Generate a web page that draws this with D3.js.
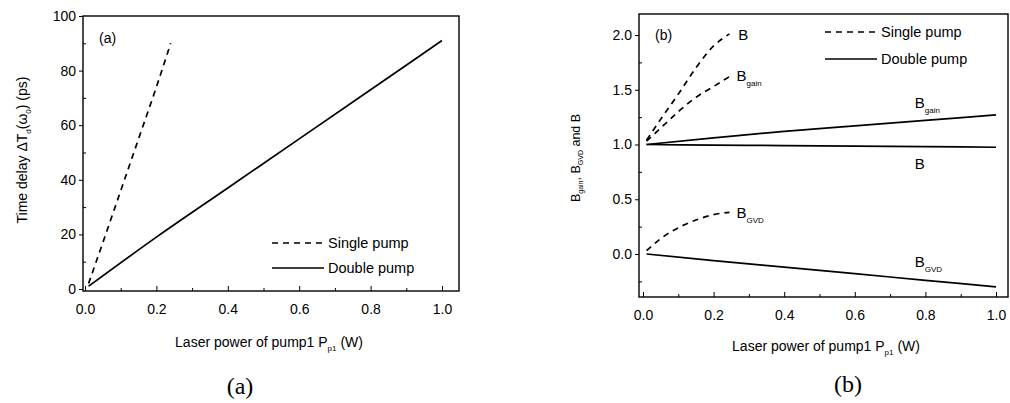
<!DOCTYPE html>
<html>
<head>
<meta charset="utf-8">
<script src="https://cdn.jsdelivr.net/npm/d3@7"></script>
<style>
  body { margin: 0; background: #fff; }
  text { fill: #000; }
</style>
</head>
<body>
<div id="chart"></div>
<script>
// panel (a) : time delay vs pump power
const powerSingleA = [0.01, 0.05, 0.1, 0.15, 0.2, 0.24];
const delaySingleA = [2, 17, 36, 55, 74, 90];
const powerDoubleA = [0.01, 0.2, 0.4, 0.6, 0.8, 1.0];
const delayDoubleA = [1, 19, 37, 55, 73, 91];

// panel (b) : broadening factors
const powerSingleB = [0.01, 0.05, 0.1, 0.15, 0.2, 0.245];
const bSingle = [1.04, 1.23, 1.46, 1.70, 1.90, 2.01];
const bGainSingle = [1.03, 1.15, 1.30, 1.43, 1.53, 1.62];
const bGvdSingle = [0.03, 0.14, 0.24, 0.31, 0.36, 0.38];
const powerDoubleB = [0.01, 0.2, 0.4, 0.6, 0.8, 1.0];
const bDouble = [1.0, 0.995, 0.99, 0.985, 0.98, 0.975];
const bGainDouble = [1.0, 1.06, 1.12, 1.17, 1.22, 1.27];
const bGvdDouble = [0.0, -0.06, -0.12, -0.18, -0.24, -0.30];

const xTicks = [0, 0.2, 0.4, 0.6, 0.8, 1.0];
const yTicksA = [0, 20, 40, 60, 80, 100];
const yTicksB = [0, 0.5, 1.0, 1.5, 2.0];
const legendLabels = ['Single pump', 'Double pump'];

const SANS = "'Liberation Sans', Arial, sans-serif";
const SERIF = "'Liberation Serif', 'DejaVu Serif', serif";

const svg = d3.select('#chart').append('svg')
    .attr('width', 1010)
    .attr('height', 403)
    .style('font-family', SANS);

function zip(xs, ys) { return xs.map((x, i) => [x, ys[i]]); }

function drawPanel(p) {
  const g = svg.append('g');
  const x = d3.scaleLinear().domain([0, 1]).range(p.xr);
  const y = d3.scaleLinear().domain(p.yd).range(p.yr);

  // frame
  g.append('rect')
    .attr('x', p.box[0]).attr('y', p.box[1])
    .attr('width', p.box[2] - p.box[0]).attr('height', p.box[3] - p.box[1])
    .attr('fill', 'none').attr('stroke', '#000').attr('stroke-width', 1.4);

  // x axis ticks (inward)
  const xa = g.append('g').attr('transform', `translate(0,${p.box[3]})`)
    .call(d3.axisBottom(x).tickValues(xTicks).tickFormat(d3.format('.1f'))
      .tickSizeInner(-5).tickSizeOuter(0).tickPadding(13));
  xa.select('.domain').remove();
  xa.selectAll('text').style('font-size', '14px').style('font-family', SANS);
  const xm = g.append('g').attr('transform', `translate(0,${p.box[3]})`)
    .call(d3.axisBottom(x).tickValues([0.1, 0.3, 0.5, 0.7, 0.9]).tickFormat('')
      .tickSizeInner(-3).tickSizeOuter(0));
  xm.select('.domain').remove();

  // y axis ticks
  const ya = g.append('g').attr('transform', `translate(${p.box[0]},0)`)
    .call(d3.axisLeft(y).tickValues(p.yTicks).tickFormat(p.yFmt)
      .tickSize(4).tickPadding(3));
  ya.select('.domain').remove();
  ya.selectAll('text').style('font-size', '14px').style('font-family', SANS);
  const ym = g.append('g').attr('transform', `translate(${p.box[0]},0)`)
    .call(d3.axisLeft(y).tickValues(p.yMinor).tickFormat('').tickSize(-3));
  ym.select('.domain').remove();

  const line = d3.line().x(d => x(d[0])).y(d => y(d[1])).curve(d3.curveMonotoneX);
  p.series.forEach(s => {
    g.append('path')
      .attr('d', line(s.pts))
      .attr('fill', 'none').attr('stroke', '#000')
      .attr('stroke-width', 1.7)
      .attr('stroke-dasharray', s.dash ? '6,5' : null);
  });

  // x label
  const xl = g.append('text')
    .attr('x', p.xLabel[0]).attr('y', p.xLabel[1])
    .attr('text-anchor', 'middle').style('font-size', '14px');
  xl.append('tspan').text('Laser power of pump1 P');
  xl.append('tspan').style('font-size', '8px').attr('dy', 4).text('p1');
  xl.append('tspan').attr('dy', -4).text(' (W)');

  // caption
  g.append('text')
    .attr('x', p.caption[0]).attr('y', p.caption[1])
    .attr('text-anchor', 'middle')
    .style('font-family', SERIF)
    .style('font-size', '24px')
    .text(p.captionText);

  g.append('text')
    .attr('x', p.tag[0]).attr('y', p.tag[1])
    .style('font-size', '14px').text(p.captionText);

  // legend
  legendLabels.forEach((lab, i) => {
    const ly = p.legend[1] + i * p.legend[2];
    g.append('line')
      .attr('x1', p.legend[0]).attr('x2', p.legend[0] + 52)
      .attr('y1', ly).attr('y2', ly)
      .attr('stroke', '#000').attr('stroke-width', 1.5)
      .attr('stroke-dasharray', i === 0 ? '6,5' : null);
    g.append('text')
      .attr('x', p.legend[0] + 56).attr('y', ly + 5)
      .style('font-size', '14.5px').text(lab);
  });
  return { g, x, y };
}

// panel (a)
const pa = drawPanel({
  xr: [85, 442], yd: [0, 100], yr: [289, 16],
  box: [83, 16, 459, 291],
  yTicks: yTicksA, yMinor: [10, 30, 50, 70, 90], yFmt: d3.format('d'),
  series: [
    { pts: zip(powerSingleA, delaySingleA), dash: true },
    { pts: zip(powerDoubleA, delayDoubleA), dash: false }
  ],
  xLabel: [269, 347], caption: [240, 394], captionText: '(a)',
  tag: [99, 43], legend: [272, 243, 25]
});

const yla = pa.g.append('text')
  .attr('transform', 'translate(27,150) rotate(-90)')
  .attr('text-anchor', 'middle').style('font-size', '14px');
yla.append('tspan').text('Time delay \u0394T');
yla.append('tspan').style('font-size', '8px').attr('dy', 4).text('d');
yla.append('tspan').attr('dy', -4).text('(\u03C9');
yla.append('tspan').style('font-size', '8px').attr('dy', 4).text('0');
yla.append('tspan').attr('dy', -4).text(') (ps)');

// panel (b)
const pb = drawPanel({
  xr: [643, 996], yd: [0, 2], yr: [254, 35],
  box: [639, 14, 1008, 297],
  yTicks: yTicksB, yMinor: [-0.25, 0.25, 0.75, 1.25, 1.75], yFmt: d3.format('.1f'),
  series: [
    { pts: zip(powerSingleB, bSingle), dash: true },
    { pts: zip(powerSingleB, bGainSingle), dash: true },
    { pts: zip(powerSingleB, bGvdSingle), dash: true },
    { pts: zip(powerDoubleB, bDouble), dash: false },
    { pts: zip(powerDoubleB, bGainDouble), dash: false },
    { pts: zip(powerDoubleB, bGvdDouble), dash: false }
  ],
  xLabel: [826, 351], caption: [848, 392], captionText: '(b)',
  tag: [655, 40], legend: [825, 32, 27]
});

const ylb = pb.g.append('text')
  .attr('transform', 'translate(580,158) rotate(-90)')
  .attr('text-anchor', 'middle').style('font-size', '12.5px');
ylb.append('tspan').text('B');
ylb.append('tspan').style('font-size', '7px').attr('dy', 3).text('gain');
ylb.append('tspan').attr('dy', -3).text(', B');
ylb.append('tspan').style('font-size', '7px').attr('dy', 3).text('GVD');
ylb.append('tspan').attr('dy', -3).text(' and B');

// curve labels in (b)
function curveLabel(px, py, main, sub) {
  const t = pb.g.append('text')
    .attr('x', pb.x(px)).attr('y', pb.y(py))
    .style('font-size', '15px');
  t.append('tspan').text(main);
  if (sub) t.append('tspan').style('font-size', '8px').attr('dy', 5).text(sub);
}
curveLabel(0.27, 1.95, 'B');
curveLabel(0.265, 1.58, 'B', 'gain');
curveLabel(0.265, 0.33, 'B', 'GVD');
curveLabel(0.77, 1.33, 'B', 'gain');
curveLabel(0.77, 0.78, 'B');
curveLabel(0.77, -0.12, 'B', 'GVD');
</script>
</body>
</html>
